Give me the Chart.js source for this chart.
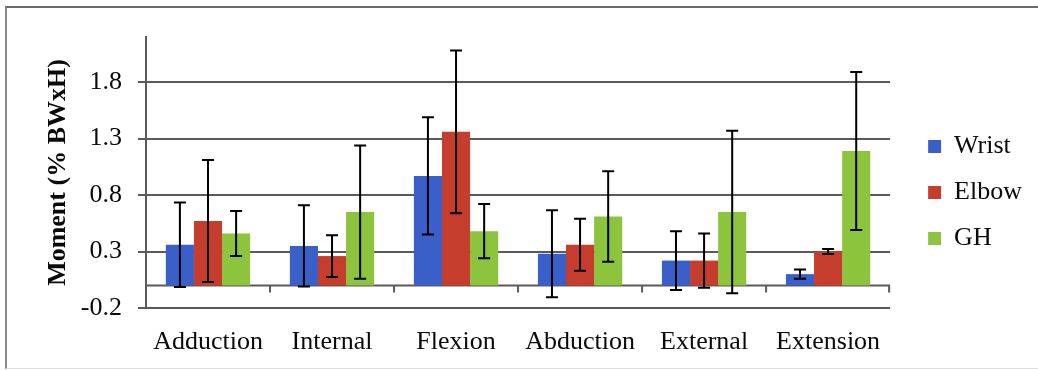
<!DOCTYPE html>
<html>
<head>
<meta charset="utf-8">
<script src="https://cdn.jsdelivr.net/npm/chart.js@4/dist/chart.umd.min.js"></script>
<style>
  html, body { margin: 0; padding: 0; background: #fff; }
  #wrap { position: relative; width: 1038px; height: 370px; overflow: hidden; }
  #frame { position: absolute; left: 5px; top: 6px; width: 1100px; height: 360px;
           border-top: 2px solid #6a6a6a; border-left: 2px solid #8a8a8a; border-bottom: 1px solid #ddd; }
  #chart { position: absolute; left: 0; top: 0; }
</style>
</head>
<body>
<div id="wrap">
  <div id="frame"></div>
  <canvas id="chart" width="1038" height="370"></canvas>
</div>
<script>
// data
const categories = ["Adduction", "Internal", "Flexion", "Abduction", "External", "Extension"];
const wrist    = [0.36, 0.35, 0.97, 0.28, 0.22, 0.10];
const wristErr = [0.375, 0.36, 0.52, 0.385, 0.26, 0.04];
const elbow    = [0.57, 0.26, 1.36, 0.36, 0.22, 0.30];
const elbowErr = [0.54, 0.185, 0.72, 0.23, 0.24, 0.022];
const gh       = [0.46, 0.65, 0.48, 0.61, 0.65, 1.19];
const ghErr    = [0.20, 0.59, 0.24, 0.40, 0.72, 0.70];
const yTicks   = [-0.2, 0.3, 0.8, 1.3, 1.8];

const serif = "'Liberation Serif', 'Times New Roman', serif";
const ink = "#0a0a0a";
const gridCol = "#5a5a5a";

// error bars, drawn from the bar elements and the y scale
const errorBars = {
  id: "errorBars",
  afterDatasetsDraw(chart) {
    const { ctx, scales: { y } } = chart;
    ctx.save();
    ctx.strokeStyle = "#000";
    ctx.lineWidth = 2;
    chart.data.datasets.forEach((ds, di) => {
      const meta = chart.getDatasetMeta(di);
      meta.data.forEach((bar, i) => {
        const v = ds.data[i], e = ds.errors[i];
        const top = y.getPixelForValue(v + e), bot = y.getPixelForValue(v - e);
        ctx.beginPath();
        ctx.moveTo(bar.x, top); ctx.lineTo(bar.x, bot);
        ctx.moveTo(bar.x - 6, top); ctx.lineTo(bar.x + 6, top);
        ctx.moveTo(bar.x - 6, bot); ctx.lineTo(bar.x + 6, bot);
        ctx.stroke();
      });
    });
    ctx.restore();
  },
};

// horizontal axis crossing at zero with category tick marks
const zeroAxis = {
  id: "zeroAxis",
  beforeDatasetsDraw(chart) {
    const { ctx, chartArea: a, scales: { x, y } } = chart;
    const y0 = Math.round(y.getPixelForValue(0)) + 0.5;
    ctx.save();
    ctx.strokeStyle = gridCol;
    ctx.lineWidth = 2;
    ctx.beginPath();
    ctx.moveTo(a.left, y0); ctx.lineTo(a.right, y0);
    for (let i = 1; i <= categories.length; i++) {
      const bx = i < categories.length
        ? (x.getPixelForTick(i - 1) + x.getPixelForTick(i)) / 2
        : a.right - 1;
      ctx.moveTo(bx, y0); ctx.lineTo(bx, y0 + 7);
    }
    ctx.stroke();
    ctx.restore();
  },
};

// push the legend off the plot and up a little
const legendNudge = {
  id: "legendNudge",
  afterLayout(chart) {
    const lg = chart.legend;
    const w = lg.width;
    lg.left = chart.chartArea.right + 18;
    lg.right = lg.left + w;
    lg.top -= 11;
    lg.bottom -= 11;
  },
};

new Chart(document.getElementById("chart"), {
  type: "bar",
  data: {
    labels: categories,
    datasets: [
      { label: "Wrist", data: wrist, errors: wristErr, backgroundColor: "#3b5fc9" },
      { label: "Elbow", data: elbow, errors: elbowErr, backgroundColor: "#c53e2d" },
      { label: "GH",    data: gh,    errors: ghErr,    backgroundColor: "#8dc43d" },
    ],
  },
  options: {
    responsive: false,
    animation: false,
    devicePixelRatio: 1,
    datasets: { bar: { categoryPercentage: 0.68, barPercentage: 1.0, borderWidth: 0 } },
    layout: { padding: { left: 0, right: 24, top: 37, bottom: 0 } },
    plugins: {
      tooltip: { enabled: false },
      legend: {
        position: "right",
        labels: {
          boxWidth: 13, boxHeight: 13, padding: 20, color: ink,
          font: { family: serif, size: 26 },
        },
      },
    },
    scales: {
      x: {
        grid: { display: false, drawTicks: false },
        border: { display: false },
        ticks: { color: ink, font: { family: serif, size: 26 }, padding: 19, maxRotation: 0 },
        afterFit: (s) => { s.height = 62; },
      },
      y: {
        min: -0.2, max: 2.2,
        afterBuildTicks: (s) => { s.ticks = yTicks.map((v) => ({ value: v })); },
        grid: { color: gridCol, lineWidth: 2, tickLength: 8 },
        border: { display: true, color: gridCol, width: 2 },
        ticks: { color: ink, font: { family: serif, size: 26 }, padding: 16,
                 callback: (v) => v.toFixed(1) },
        title: {
          display: true, text: "Moment (% BWxH)", color: ink,
          font: { family: serif, size: 26, weight: "bold" },
          padding: { top: 43, bottom: 0 },
        },
        afterFit: (s) => { s.width = 146; },
      },
    },
  },
  plugins: [errorBars, zeroAxis, legendNudge],
});
</script>
</body>
</html>
